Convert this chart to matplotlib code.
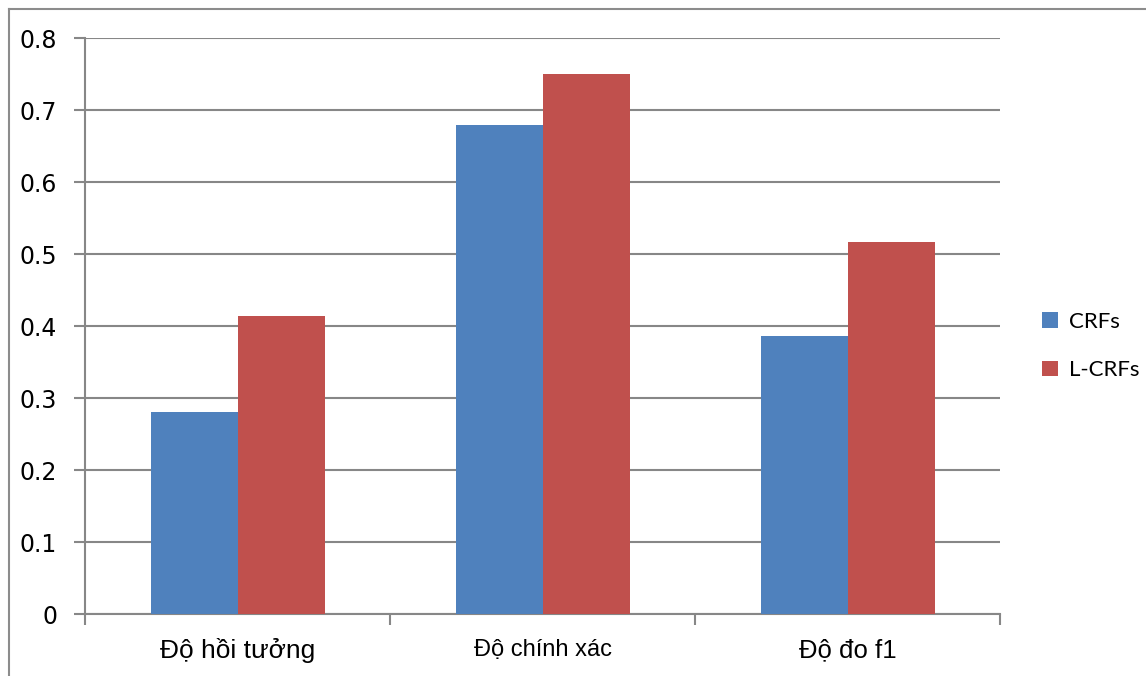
import matplotlib
matplotlib.use("Agg")
import matplotlib.pyplot as plt
import numpy as np
from matplotlib.lines import Line2D

categories = ["Độ hồi tưởng", "Độ chính xác", "Độ đo f1"]
series_names = ["CRFs", "L-CRFs"]
crfs = [0.281, 0.679, 0.386]
l_crfs = [0.414, 0.750, 0.517]
yticks = [0, 0.1, 0.2, 0.3, 0.4, 0.5, 0.6, 0.7, 0.8]
ytick_labels = ["0", "0.1", "0.2", "0.3", "0.4", "0.5", "0.6", "0.7", "0.8"]

blue = "#4F81BD"
red = "#C0504D"
grid_col = "#878787"

fig = plt.figure(figsize=(11.46, 6.76), dpi=100)
W, H = 1146, 676
ax = fig.add_axes([85 / W, (H - 614) / H, (1000 - 85) / W, (614 - 38) / H])

x = np.arange(len(categories))
bw = 87 / 305
ax.bar(x - bw / 2, crfs, bw, color=blue, label=series_names[0], zorder=3)
ax.bar(x + bw / 2, l_crfs, bw, color=red, label=series_names[1], zorder=3)

ax.set_xlim(-0.5, 2.5)
ax.set_ylim(0, 0.8)
ax.set_yticks(yticks)
ax.set_yticklabels(ytick_labels, fontsize=17, family="DejaVu Sans")
ax.yaxis.grid(True, color=grid_col, linewidth=1.5, zorder=0)
ax.tick_params(axis="y", length=8, width=1.5, color=grid_col, pad=12)

ax.set_xticks(x)
ax.set_xticklabels([])
ax.set_xticks([-0.5, 0.5, 1.5, 2.5], minor=True)
ax.tick_params(axis="x", which="major", length=0)
ax.tick_params(axis="x", which="minor", length=8, width=1.5, color=grid_col)

# category labels (middle one is smaller in the original)
sizes = [19, 17, 18.5]
for xi, lab, fs in zip(x, categories, sizes):
    ax.text(xi, -0.047, lab, ha="center", va="center_baseline", fontsize=fs,
            family="Liberation Sans")

for s in ["top", "right"]:
    ax.spines[s].set_visible(False)
for s in ["left", "bottom"]:
    ax.spines[s].set_color(grid_col)
    ax.spines[s].set_linewidth(1.5)

leg = fig.legend(loc="center left", bbox_to_anchor=(1042 / W, (H - 346) / H),
                 frameon=False, prop={"family": "Lato", "size": 16},
                 handlelength=0.7, handleheight=0.7, handletextpad=0.5,
                 labelspacing=1.3, borderpad=0, borderaxespad=0)

# outer border of the chart area
fig.add_artist(Line2D([9 / W, 1], [1 - 9 / H, 1 - 9 / H], color="#8c8c8c", lw=1.5))
fig.add_artist(Line2D([9 / W, 9 / W], [0, 1 - 9 / H], color="#8c8c8c", lw=1.5))

fig.savefig("out.png", dpi=100)
